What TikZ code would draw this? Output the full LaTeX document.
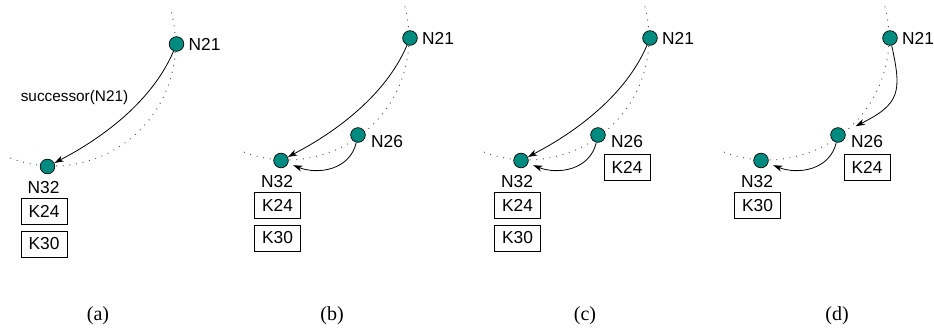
\documentclass[tikz,border=0pt]{standalone}
\usepackage{fontspec}
\setmainfont{Liberation Serif}
\setsansfont{Liberation Sans}
\usetikzlibrary{arrows.meta}
\definecolor{peercol}{RGB}{0,139,128}

\begin{document}
\begin{tikzpicture}[x=0.75pt, y=-0.75pt,
    peer/.style={circle, draw, fill=peercol, minimum size=11pt, inner sep=0pt, line width=0.5pt},
    tag/.style={font=\sffamily\fontsize{13}{15}\selectfont},
    keybox/.style={rectangle, draw, line width=0.6pt, minimum width=34.5pt, minimum height=19.5pt, inner sep=0pt, font=\sffamily\fontsize{13}{15}\selectfont},
    ring/.style={line width=0.7pt, dash pattern=on 0.7pt off 4.3pt, black!70},
    hop/.style={-{Stealth[length=7pt,width=4.5pt,inset=2pt]}, line width=0.6pt},
    sublabel/.style={font=\fontsize{15}{18}\selectfont, anchor=base}]
  \useasboundingbox (0,0) rectangle (934,331);

  % (a)
  \begin{scope}[shift={(-233.5,6)}]
    \draw[ring] plot[domain=-15:112, samples=60] ({287+122*cos(\x)}, {38+122*sin(\x)});
    \node (n21a) [peer] at (410,38) {};
    \node (n32a) [peer] at (281,160.5) {};
    \node (l21a) [tag] at (438,38) {N21};
    \node (l32a) [tag] at (277,181.5) {N32};
    \node (k24a) [keybox] at (277.5,205.5) {K24};
    \node (k30a) [keybox] at (277.5,238) {K30};
    \draw[hop] (n21a) .. controls (386,95) and (336,132) .. (n32a);
    \node (succ) [font=\sffamily\fontsize{11.5}{14}\selectfont] at (308,92) {successor(N21)};
  \end{scope}

  % (b)
  \begin{scope}
    \draw[ring] plot[domain=-15:112, samples=60] ({287+122*cos(\x)}, {38+122*sin(\x)});
    \node (n21b) [peer] at (410,38) {};
    \node (n26b) [peer] at (358,135) {};
    \node (n32b) [peer] at (281,160.5) {};
    \node (l21b) [tag] at (438,38) {N21};
    \node (l26b) [tag] at (387,142) {N26};
    \node (l32b) [tag] at (277,181.5) {N32};
    \node (k24b) [keybox] at (277.5,205.5) {K24};
    \node (k30b) [keybox] at (277.5,238) {K30};
    \draw[hop] (n21b) .. controls (386,95) and (336,132) .. (n32b);
    \draw[hop, shorten >=4pt] (n26b) .. controls (350,170) and (318,175) .. (n32b);
  \end{scope}

  % (c)
  \begin{scope}[shift={(240,0)}]
    \draw[ring] plot[domain=-15:112, samples=60] ({287+122*cos(\x)}, {38+122*sin(\x)});
    \node (n21c) [peer] at (410,38) {};
    \node (n26c) [peer] at (358,135) {};
    \node (n32c) [peer] at (281,160.5) {};
    \node (l21c) [tag] at (438,38) {N21};
    \node (l26c) [tag] at (387,142) {N26};
    \node (l32c) [tag] at (277,181.5) {N32};
    \node (k24c) [keybox] at (387,167) {K24};
    \node (k24cc) [keybox] at (277.5,205.5) {K24};
    \node (k30c) [keybox] at (277.5,238) {K30};
    \draw[hop] (n21c) .. controls (386,95) and (336,132) .. (n32c);
    \draw[hop, shorten >=4pt] (n26c) .. controls (350,170) and (318,175) .. (n32c);
  \end{scope}

  % (d)
  \begin{scope}[shift={(480,0)}]
    \draw[ring] plot[domain=-15:112, samples=60] ({287+122*cos(\x)}, {38+122*sin(\x)});
    \node (n21d) [peer] at (410,38) {};
    \node (n26d) [peer] at (358,135) {};
    \node (n32d) [peer] at (281,160.5) {};
    \node (l21d) [tag] at (438,38) {N21};
    \node (l26d) [tag] at (387,142) {N26};
    \node (l32d) [tag] at (277,181.5) {N32};
    \node (k24d) [keybox] at (387,167) {K24};
    \node (k30d) [keybox] at (277.5,205.5) {K30};
    \draw[hop, shorten >=9pt] (n21d) .. controls (422,92) and (420,104) .. (n26d);
    \draw[hop, shorten >=4pt] (n26d) .. controls (350,170) and (318,175) .. (n32d);
  \end{scope}

  \node (capa) [sublabel] at (98,320) {(a)};
  \node (capb) [sublabel] at (332,320) {(b)};
  \node (capc) [sublabel] at (585,320) {(c)};
  \node (capd) [sublabel] at (837,320) {(d)};
\end{tikzpicture}
\end{document}
